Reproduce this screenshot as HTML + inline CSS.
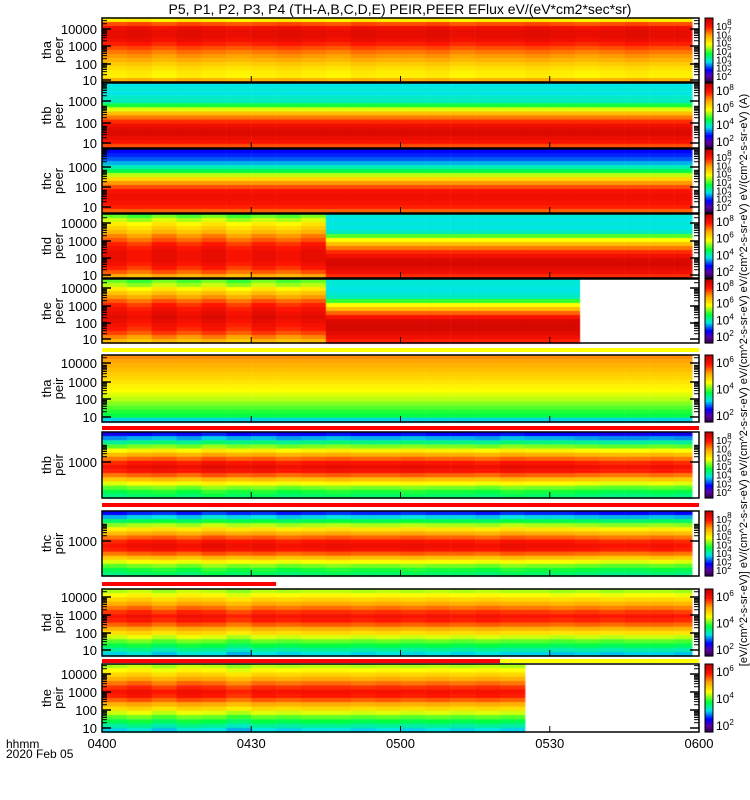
<!DOCTYPE html>
<html><head><meta charset="utf-8">
<style>
html,body{margin:0;padding:0;background:#fff;}
#wrap{position:relative;width:750px;height:800px;overflow:hidden;font-family:"Liberation Sans",sans-serif;}
#cv{position:absolute;left:0;top:0;}
#ov{position:absolute;left:0;top:0;}
</style></head>
<body>
<div id="wrap">
<canvas id="cv" width="750" height="800"></canvas>
<svg id="ov" width="750" height="800" xmlns="http://www.w3.org/2000/svg"></svg>
</div>
<script>
// ---- data: energy-band intensity profiles (top=high energy -> bottom=low), 0..1 of color scale
const thaPeerProfile = [0.62,0.82,0.9,0.92,0.92,0.9,0.86,0.82,0.78,0.75,0.72,0.68,0.65,0.63,0.62,0.72];
const thbPeerProfile = [0.33,0.34,0.33,0.35,0.36,0.46,0.58,0.7,0.78,0.85,0.9,0.93,0.94,0.91,0.88,0.82];
const thcPeerProfile = [0.2,0.22,0.25,0.3,0.36,0.44,0.56,0.66,0.75,0.82,0.88,0.9,0.9,0.88,0.86,0.8];
const thdPeerEarly = [0.5,0.56,0.62,0.66,0.7,0.76,0.8,0.85,0.88,0.9,0.9,0.9,0.88,0.85,0.8,0.72];
const thdPeerLate = [0.34,0.33,0.34,0.33,0.36,0.5,0.6,0.7,0.78,0.85,0.9,0.94,0.95,0.93,0.9,0.85];
const thePeerEarly = [0.5,0.55,0.62,0.68,0.74,0.8,0.85,0.88,0.9,0.92,0.9,0.88,0.86,0.82,0.76,0.7];
const thePeerLate = [0.34,0.34,0.33,0.34,0.36,0.48,0.6,0.7,0.8,0.88,0.94,0.95,0.95,0.93,0.9,0.86];
const thaPeirProfile = [0.76,0.74,0.72,0.7,0.68,0.66,0.64,0.62,0.6,0.58,0.56,0.53,0.5,0.47,0.44,0.32];
const thbPeirProfile = [0.2,0.3,0.4,0.52,0.62,0.72,0.8,0.87,0.91,0.88,0.8,0.7,0.6,0.52,0.46,0.42];
const thcPeirProfile = [0.22,0.32,0.44,0.55,0.64,0.72,0.8,0.87,0.9,0.88,0.8,0.7,0.6,0.52,0.46,0.42];
const thdPeirProfile = [0.55,0.6,0.66,0.72,0.78,0.84,0.88,0.86,0.8,0.72,0.65,0.57,0.5,0.44,0.38,0.32];
const thePeirProfile = [0.55,0.6,0.66,0.72,0.78,0.84,0.88,0.86,0.8,0.72,0.65,0.57,0.5,0.44,0.38,0.32];
// time modulation per 5-minute bin (0400..0600, 24 bins)
const thaPeerTime = [0,0.01,-0.01,0.01,0,-0.01,0,0.01,0,-0.01,0.01,0,0,0.01,-0.01,0,0,0.01,0,-0.01,0,0.01,0,0];
const thdPeerTime = [0.01,-0.02,0.02,-0.01,0.02,-0.02,0.01,-0.01,0.02,0,0,0,0,0,0,0,0,0,0,0,0,0,0,0];
const thePeerTime = [0.01,-0.02,0.02,-0.01,0.02,-0.02,0.02,-0.01,0.01,0,0,0,0,0,0,0,0,0,0,0,0,0,0,0];
const thbPeirTime = [-0.02,0,0.01,-0.01,0.02,0,0.01,-0.01,0,0.01,0,0,0.01,0,0,-0.01,0.01,0,0,-0.01,-0.02,-0.02,-0.01,-0.02];
const thdPeirTime = [0,0.02,-0.01,0.02,0.01,-0.02,0.01,0,0.01,0.01,0,0.01,0,0.01,0,0.01,0,0,-0.01,0,-0.01,0,0,-0.01];
const zeroTime = [0,0,0,0,0,0,0,0,0,0,0,0,0,0,0,0,0,0,0,0,0,0,0,0];
const timeTickLabels = ["0400","0430","0500","0530","0600"];
const timeTickMinutes = [0,30,60,90,120];
const cbarLabelsPeer = ["8","7","6","5","4","3","2"];
const cbarLabelsMid = ["8","6","4","2"];
const cbarLabelsPeir = ["6","4","2"];

// ---- axis functions
const X0 = 102, X1 = 699, DATA_END = 692;
function xScale(min){ return X0 + (X1 - X0) * min / 120; }

const panels = [
 {name:"tha-peer",l1:"tha",l2:"peer",top:18,bot:82,early:thaPeerProfile,late:thaPeerProfile,change:0,mod:thaPeerTime,end:120,labels:[["10000",29],["1000",46],["100",64],["10",80]],cb:cbarLabelsPeer},
 {name:"thb-peer",l1:"thb",l2:"peer",top:83,bot:148,early:thbPeerProfile,late:thbPeerProfile,change:0,mod:zeroTime,end:120,labels:[["1000",101],["100",123],["10",143]],cb:cbarLabelsMid},
 {name:"thc-peer",l1:"thc",l2:"peer",top:149,bot:213,early:thcPeerProfile,late:thcPeerProfile,change:0,mod:zeroTime,end:120,labels:[["1000",167],["100",187],["10",207]],cb:cbarLabelsPeer},
 {name:"thd-peer",l1:"thd",l2:"peer",top:214,bot:278,early:thdPeerEarly,late:thdPeerLate,change:45,mod:thdPeerTime,end:120,labels:[["10000",223],["1000",241],["100",258],["10",275]],cb:cbarLabelsMid},
 {name:"the-peer",l1:"the",l2:"peer",top:279,bot:343,early:thePeerEarly,late:thePeerLate,change:45,mod:thePeerTime,end:96,labels:[["10000",288],["1000",306],["100",323],["10",339]],cb:cbarLabelsMid},
 {name:"tha-peir",l1:"tha",l2:"peir",top:355,bot:422,early:thaPeirProfile,late:thaPeirProfile,change:0,mod:zeroTime,end:120,labels:[["10000",363],["1000",382],["100",399],["10",417]],cb:cbarLabelsPeir},
 {name:"thb-peir",l1:"thb",l2:"peir",top:432,bot:498,early:thbPeirProfile,late:thbPeirProfile,change:0,mod:thbPeirTime,end:120,labels:[["1000",462]],cb:cbarLabelsPeer},
 {name:"thc-peir",l1:"thc",l2:"peir",top:511,bot:576,early:thcPeirProfile,late:thcPeirProfile,change:0,mod:thbPeirTime,end:120,labels:[["1000",541]],cb:cbarLabelsPeer},
 {name:"thd-peir",l1:"thd",l2:"peir",top:589,bot:656,early:thdPeirProfile,late:thdPeirProfile,change:0,mod:thdPeirTime,end:120,labels:[["10000",597],["1000",615],["100",633],["10",650]],cb:cbarLabelsPeir},
 {name:"the-peir",l1:"the",l2:"peir",top:664,bot:732,early:thePeirProfile,late:thePeirProfile,change:0,mod:thdPeirTime,end:85,labels:[["10000",674],["1000",692],["100",710],["10",728]],cb:cbarLabelsPeir}
];
const flagBars = [
 {name:"flag-bar-peer",y:348,h:4,segs:[[0,120,"#ffff00"]]},
 {name:"flag-bar-tha-peir",y:426,h:4,segs:[[0,120,"#ff0000"]]},
 {name:"flag-bar-thb-peir",y:503,h:4,segs:[[0,120,"#ff0000"]]},
 {name:"flag-bar-thc-peir",y:582,h:4,segs:[[0,35,"#ff0000"]]},
 {name:"flag-bar-thd-peir",y:659,h:4,segs:[[0,80,"#ff0000"],[80,120,"#ffff00"]]}
];

// ---- colormap
const stops=[[0,[40,0,60]],[0.1,[90,0,160]],[0.2,[0,0,255]],[0.33,[0,230,230]],[0.45,[0,255,60]],[0.6,[255,255,0]],[0.74,[255,165,0]],[0.87,[255,20,0]],[1,[190,0,0]]];
function cmap(v){
  v=Math.max(0,Math.min(1,v));
  for(let i=1;i<stops.length;i++){
    if(v<=stops[i][0]){
      const a=stops[i-1],b=stops[i],t=(v-a[0])/(b[0]-a[0]);
      return "rgb("+a[1].map((c,k)=>Math.round(c+(b[1][k]-c)*t)).join(",")+")";
    }
  }
  return "rgb(190,0,0)";
}

const ctx=document.getElementById("cv").getContext("2d");
const svg=document.getElementById("ov");
const NS="http://www.w3.org/2000/svg";
function mk(tag,attrs,name,inter){
  const e=document.createElementNS(NS,tag);
  for(const k in attrs)e.setAttribute(k,attrs[k]);
  
  
  svg.appendChild(e);return e;
}

// draw spectrograms
panels.forEach(p=>{
  const rows=p.early.length, rh=(p.bot-p.top)/rows;
  for(let b=0;b<24;b++){
    const t0=b*5,t1=b*5+5;
    if(t0>=p.end)break;
    const xa=xScale(t0), xb=Math.min(xScale(Math.min(t1,p.end)),DATA_END);
    const prof=(t0<p.change)?p.early:p.late;
    for(let r=0;r<rows;r++){
      ctx.fillStyle=cmap(prof[r]+p.mod[b]);
      ctx.fillRect(xa,p.top+r*rh,xb-xa+0.5,rh+0.5);
    }
  }
});
flagBars.forEach(f=>{
  f.segs.forEach(s=>{
    mk("rect",{x:xScale(s[0]),y:f.y,width:xScale(s[1])-xScale(s[0]),height:f.h,fill:s[2]},f.name,"false");
  });
});

// axes, ticks, labels
panels.forEach(p=>{
  mk("rect",{x:X0,y:p.top,width:X1-X0,height:p.bot-p.top,fill:"none",stroke:"#000","stroke-width":1.5},"frame-"+p.name,"false");
  p.labels.forEach((lb,i)=>{
    const y=lb[1];
    mk("line",{x1:X0,x2:X0+9,y1:y,y2:y,stroke:"#000","stroke-width":1.5},"major-tick-"+p.name,"false");
    mk("line",{x1:X1-9,x2:X1,y1:y,y2:y,stroke:"#000","stroke-width":1.5},"major-tick-right-"+p.name,"false");
    for(let m=2;m<10;m++){
      const yy=y-Math.log10(m)*17.5;
      if(yy<p.top+1)break;
      mk("line",{x1:X0,x2:X0+5,y1:yy,y2:yy,stroke:"#000","stroke-width":1},"minor-tick-"+p.name,"false");
      mk("line",{x1:X1-5,x2:X1,y1:yy,y2:yy,stroke:"#000","stroke-width":1},"minor-tick-right-"+p.name,"false");
    }
    const t=mk("text",{x:97,y:y+5,"text-anchor":"end","font-size":"13","font-family":"Liberation Sans, sans-serif"},"y-tick-label-"+p.name,"false");
    t.textContent=lb[0];
  });
  timeTickMinutes.forEach(m=>{
    mk("line",{x1:xScale(m),x2:xScale(m),y1:p.bot,y2:p.bot-6,stroke:"#000","stroke-width":1},"x-tick-"+p.name,"false");
  });
  const cy=(p.top+p.bot)/2;
  const g=mk("text",{x:0,y:0,transform:"translate(51,"+cy+") rotate(-90)","text-anchor":"middle","font-size":"13","font-family":"Liberation Sans, sans-serif"},"y-axis-title-"+p.name,"false");
  const s1=document.createElementNS(NS,"tspan");s1.setAttribute("x","0");s1.setAttribute("dy","0");s1.textContent=p.l1;g.appendChild(s1);
  const s2=document.createElementNS(NS,"tspan");s2.setAttribute("x","0");s2.setAttribute("dy","12");s2.textContent=p.l2;g.appendChild(s2);
  // colorbar
  const ch=p.bot-p.top, steps=40;
  for(let i=0;i<steps;i++){
    mk("rect",{x:705,y:p.top+ch*i/steps,width:8,height:ch/steps+0.6,fill:cmap(1-i/steps)},"colorbar-"+p.name,"false");
  }
  mk("rect",{x:705,y:p.top,width:8,height:ch,fill:"none",stroke:"#000","stroke-width":1},"colorbar-frame-"+p.name,"false");
  const n=p.cb.length;
  const fs=n>5?10:12;
  p.cb.forEach((e,i)=>{
    const yy=p.top+8+(ch-14)*i/(n-1||1);
    const t=mk("text",{x:716,y:yy+4,"font-size":fs,"font-family":"Liberation Sans, sans-serif"},"colorbar-label-"+p.name,"false");
    t.textContent="10";
    const sp=document.createElementNS(NS,"tspan");sp.setAttribute("dy","-5");sp.setAttribute("font-size","8");sp.textContent=e;t.appendChild(sp);
  });
});

// x axis labels
timeTickMinutes.forEach((m,i)=>{
  const t=mk("text",{x:xScale(m),y:748,"text-anchor":"middle","font-size":"13","font-family":"Liberation Sans, sans-serif"},"x-tick-label","false");
  t.textContent=timeTickLabels[i];
});
const h1=mk("text",{x:6,y:748,"font-size":"12","font-family":"Liberation Sans, sans-serif"},"x-axis-format-label","false");h1.textContent="hhmm";
const h2=mk("text",{x:6,y:758,"font-size":"12","font-family":"Liberation Sans, sans-serif"},"x-axis-date-label","false");h2.textContent="2020 Feb 05";
const tt=mk("text",{x:400,y:14,"text-anchor":"middle","font-size":"14","font-family":"Liberation Sans, sans-serif"},"chart-title","false");
tt.textContent="P5, P1, P2, P3, P4 (TH-A,B,C,D,E) PEIR,PEER EFlux eV/(eV*cm2*sec*sr)";
const ut=mk("text",{x:0,y:0,transform:"translate(747,380) rotate(-90)","text-anchor":"middle","font-size":"11","font-family":"Liberation Sans, sans-serif"},"colorbar-units-label","false");
ut.textContent="[eV/(cm^2-s-sr-eV)] eV/(cm^2-s-sr-eV) eV/(cm^2-s-sr-eV) eV/(cm^2-s-sr-eV) eV/(cm^2-s-sr-eV) eV/(cm^2-s-sr-eV) (A)";
</script>
</body></html>
